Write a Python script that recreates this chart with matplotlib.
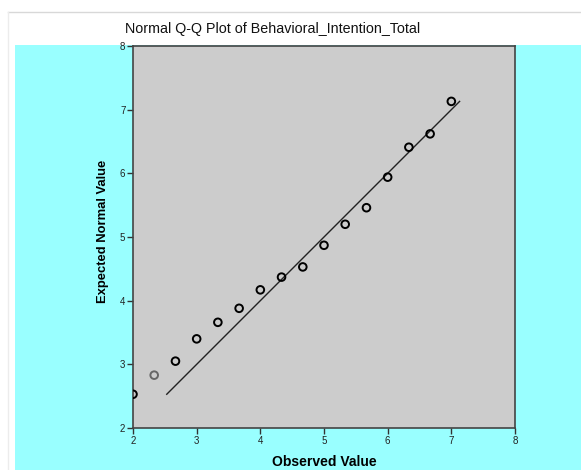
import numpy as np
import matplotlib.pyplot as plt
from matplotlib.patches import Rectangle
from matplotlib.lines import Line2D

observed = [2.0, 2.333, 2.667, 3.0, 3.333, 3.667, 4.0, 4.333, 4.667,
            5.0, 5.333, 5.667, 6.0, 6.333, 6.667, 7.0]
expected = [2.53, 2.83, 3.05, 3.40, 3.66, 3.88, 4.17, 4.37, 4.53,
            4.87, 5.20, 5.46, 5.94, 6.41, 6.62, 7.13]
line_ends = [2.53, 7.13]
ticks = [2, 3, 4, 5, 6, 7, 8]

W, H = 581, 470
plt.rcParams['font.family'] = ['Liberation Sans', 'DejaVu Sans']
fig = plt.figure(figsize=(W / 100, H / 100), dpi=100)
fig.patch.set_facecolor('white')

# cyan chart area and thin frame lines
fig.patches.append(Rectangle((15 / W, 0), 1 - 15 / W, 1 - 45 / H,
                             transform=fig.transFigure, facecolor='#99ffff',
                             edgecolor='none', zorder=-1))
fig.lines.append(Line2D([8 / W, 1], [1 - 12 / H, 1 - 12 / H],
                        transform=fig.transFigure, color='#d8d8d8', lw=1))
fig.lines.append(Line2D([8 / W, 8 / W], [0, 1 - 12 / H],
                        transform=fig.transFigure, color='#ececec', lw=1))

ax = fig.add_axes([133 / W, 1 - 428 / H, (515 - 133) / W, (428 - 46) / H])
ax.set_facecolor('#cccccc')

ax.plot(line_ends, line_ends, color='#222222', lw=1)
colors = ['black'] * len(observed)
colors[1] = '#666666'
ax.scatter(observed, expected, s=30, facecolors='none', edgecolors=colors,
           linewidths=1.4, zorder=3)

ax.set_xlim(2, 8)
ax.set_ylim(2, 8)
ax.set_xticks(ticks)
ax.set_yticks(ticks)
ax.tick_params(labelsize=7, length=4.5, width=1, color='#333333',
               labelcolor='#222222', pad=1)
for s in ax.spines.values():
    s.set_color('#444444')
    s.set_linewidth(1.2)

ax.set_xlabel('Observed Value', fontsize=10, fontweight='bold', labelpad=6.5)
ax.set_ylabel('Expected Normal Value', fontsize=9.4, fontweight='bold')
ax.yaxis.set_label_coords(-0.063, 0.516)
fig.text(272.5 / W, 1 - 33 / H, 'Normal Q-Q Plot of Behavioral_Intention_Total',
         ha='center', va='baseline', fontsize=10.3, color='#111111')

fig.savefig('out.png', dpi=100)
